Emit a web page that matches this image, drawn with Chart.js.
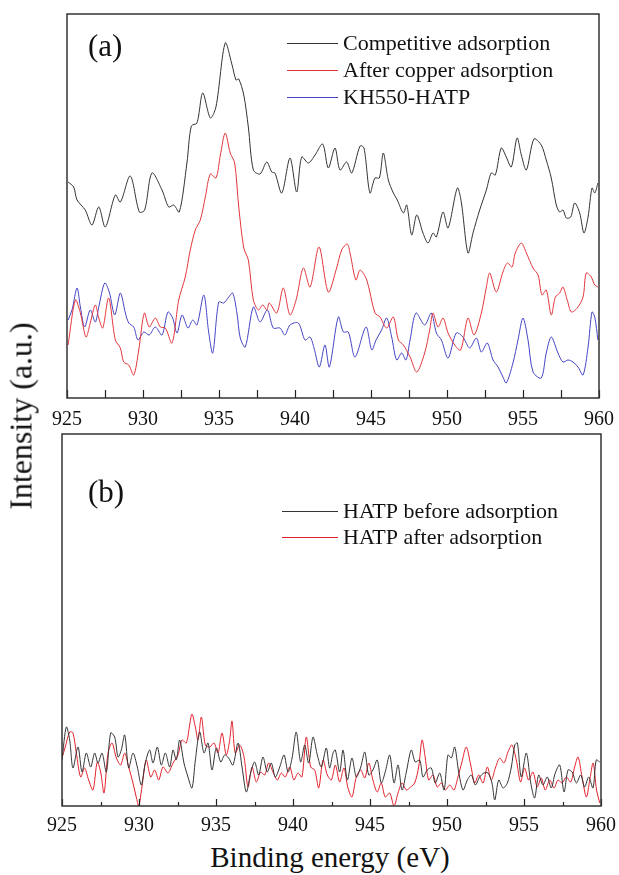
<!DOCTYPE html>
<html><head><meta charset="utf-8">
<script src="https://cdn.jsdelivr.net/npm/chart.js@4.4.0/dist/chart.umd.min.js"></script>
<style>
html,body{margin:0;padding:0;background:#fff;}
body{width:619px;height:875px;position:relative;overflow:hidden;font-family:"Liberation Serif","DejaVu Serif",serif;}
#wa{position:absolute;left:0;top:0;width:619px;height:440px;}
#wb{position:absolute;left:0;top:420px;width:619px;height:420px;}
.ylab{position:absolute;left:21px;top:416px;transform:translate(-50%,-50%) rotate(-90deg);font-size:32px;white-space:nowrap;color:#111;}
.xlab{position:absolute;left:330px;top:857px;transform:translate(-50%,-50%);font-size:29px;white-space:nowrap;color:#111;}
</style></head>
<body>
<div id="wa"><canvas id="ca"></canvas></div>
<div id="wb"><canvas id="cb"></canvas></div>
<div class="ylab">Intensity (a.u.)</div>
<div class="xlab">Binding energy (eV)</div>
<script>
// ---------- DATA ----------
const xTicks = [925, 930, 935, 940, 945, 950, 955, 960];

// Panel (a)
const compLabel = "Competitive adsorption";
const compE = [925.07,925.44,925.66,926.20,926.64,927.09,927.52,928.18,928.51,929.16,
929.76,930.11,930.59,931.25,931.69,932.02,932.39,932.89,933.18,933.55,
933.93,934.43,934.80,935.41,935.86,936.12,936.30,936.63,936.93,937.26,
937.70,938.14,938.47,938.68,939.13,939.67,940.11,940.44,940.88,941.32,
941.82,942.19,942.63,942.96,943.40,943.73,944.28,944.54,944.93,945.26,
945.55,945.81,946.14,946.47,946.73,947.13,947.35,947.68,948.01,948.42,
948.75,949.08,949.30,949.74,950.07,950.68,950.94,951.38,951.71,952.15,
952.59,952.91,953.18,953.57,953.90,954.23,954.61,954.89,955.22,955.72,
956.20,956.53,956.86,957.19,957.41,957.63,957.85,958.14,958.40,958.73,
959.01,959.28,959.54,959.72,959.93];
const compI = [216,211,198,188,173,191,171,203,196,222,
186,188,225,208,191,193,186,235,272,275,
305,280,291,355,333,318,319,303,271,228,
224,236,226,225,205,240,206,241,235,243,
254,230,250,228,236,225,252,250,205,220,
220,245,218,205,198,185,193,163,183,165,
155,165,161,186,170,210,196,145,165,188,
208,225,223,250,241,231,260,243,228,259,
253,238,220,193,186,188,180,181,195,185,
165,181,210,205,215];

const copperLabel = "After copper adsorption";
const copperE = [925.07,925.55,925.88,926.25,926.53,926.86,927.09,927.35,927.74,928.18,
928.51,928.73,929.06,929.39,929.72,930.09,930.41,930.81,931.14,931.47,
931.91,932.35,932.78,933.11,933.44,933.77,934.10,934.43,934.80,935.09,
935.41,935.74,936.03,936.30,936.63,936.93,937.26,937.59,937.88,938.14,
938.31,938.80,939.23,939.67,940.07,940.55,940.99,941.58,942.19,942.74,
943.07,943.44,943.62,944.01,944.28,944.72,945.26,945.59,946.03,946.47,
946.80,947.13,947.57,948.01,948.53,948.86,949.08,949.41,949.74,950.07,
950.51,950.90,951.38,951.78,952.26,952.59,952.81,953.24,953.68,953.97,
954.28,954.49,954.89,955.22,955.66,955.99,956.25,956.53,956.86,957.13,
957.41,957.63,957.91,958.18,958.57,958.95,959.16,959.49,959.72,959.93];
const copperI = [53,98,85,61,75,93,80,70,100,58,
50,36,33,23,48,85,71,80,71,70,
55,98,121,148,168,178,201,224,220,243,
265,245,235,191,150,138,98,88,93,88,
95,85,110,83,98,130,111,151,106,130,
148,154,145,118,128,118,85,81,70,81,
58,53,41,26,45,68,85,71,80,65,
53,48,80,63,85,111,125,106,126,135,
131,145,155,145,130,123,103,108,83,101,
105,111,98,86,90,101,125,121,113,111];

const khLabel = "KH550-HATP";
const khE = [925.07,925.33,925.66,925.88,926.16,926.53,926.86,927.09,927.48,927.78,
928.14,928.51,928.84,929.06,929.39,929.67,930.05,930.41,930.81,931.25,
931.64,931.95,932.24,932.57,932.96,933.27,933.55,934.00,934.32,934.59,
934.98,935.31,935.64,935.90,936.18,936.40,936.73,937.26,937.70,938.18,
938.57,939.01,939.34,939.67,940.22,940.66,940.99,941.25,941.60,941.97,
942.26,942.85,943.18,943.51,943.95,944.67,945.05,945.33,945.70,946.03,
946.36,946.69,947.02,947.30,947.57,947.96,948.53,948.97,949.30,949.63,
950.07,950.61,951.05,951.49,951.93,952.26,952.65,953.03,953.36,953.68,
953.90,954.34,954.67,955.00,955.33,955.66,956.20,956.53,956.86,957.30,
957.63,957.96,958.29,958.62,958.95,959.28,959.54,959.72,959.93];
const khI = [78,88,110,91,71,88,76,91,115,106,
83,105,85,75,71,58,66,63,71,63,
86,80,65,83,70,78,73,103,66,45,
96,95,101,105,85,60,51,91,76,88,
70,70,63,73,75,58,61,50,31,53,
31,81,66,66,41,71,48,58,68,80,
61,38,45,38,58,85,73,85,65,58,
40,65,61,50,60,46,55,38,31,21,
15,35,58,80,58,26,20,45,61,45,
36,38,36,31,23,51,86,81,58];

// Panel (b)
const beforeLabel = "HATP before adsorption";
const beforeE = [925.00,925.28,925.50,925.71,926.04,926.30,926.58,926.86,927.12,927.34,
927.60,927.88,928.16,928.42,928.64,928.85,929.07,929.33,929.61,929.89,
930.15,930.41,930.69,930.91,931.19,931.45,931.71,931.99,932.21,932.42,
932.64,932.92,933.18,933.44,933.66,933.94,934.22,934.48,934.74,935.02,
935.31,935.56,935.82,936.10,936.43,936.69,936.97,937.25,937.51,937.77,
938.05,938.33,938.59,938.85,939.14,939.42,939.68,939.94,940.21,940.50,
940.76,941.02,941.30,941.58,941.84,942.16,942.38,942.60,942.75,943.03,
943.25,943.53,943.83,944.11,944.40,944.66,944.92,945.19,945.47,945.73,
945.99,946.28,946.56,946.82,947.08,947.36,947.68,947.94,948.23,948.44,
948.72,948.98,949.24,949.53,949.81,950.06,950.28,950.50,950.76,951.04,
951.32,951.58,951.84,952.12,952.40,952.66,952.92,953.10,953.36,953.64,
953.92,954.18,954.40,954.57,954.82,955.15,955.44,955.69,955.95,956.23,
956.51,956.77,957.03,957.32,957.60,957.86,958.12,958.40,958.68,958.94,
959.20,959.48,959.69,959.92];
const beforeI = [46,79,66,38,59,34,53,39,53,43,
53,34,73,69,49,56,71,38,53,39,
21,43,56,43,59,41,53,39,56,46,
66,43,29,18,46,74,53,63,36,58,
44,51,48,41,63,39,14,33,44,31,
49,34,43,29,39,51,34,48,74,44,
61,43,69,51,39,58,38,53,56,34,
56,26,48,29,39,54,31,36,46,23,
34,51,23,41,16,34,56,44,46,29,
36,38,23,33,16,51,48,59,34,16,
26,31,21,29,33,33,23,6,26,18,
23,39,61,63,29,53,23,8,31,21,
29,18,33,41,14,36,34,23,31,19,
29,18,46,44];

const afterLabel = "HATP after adsorption";
const afterE = [925.00,925.21,925.50,925.71,925.93,926.21,926.47,926.73,927.01,927.29,
927.51,927.73,927.99,928.25,928.53,928.81,929.07,929.33,929.61,929.82,
929.98,930.19,930.47,930.76,931.02,931.28,931.56,931.88,932.21,932.53,
932.79,933.07,933.29,933.44,933.66,933.83,934.05,934.31,934.59,934.87,
935.13,935.39,935.67,935.89,936.04,936.25,936.54,936.82,937.08,937.34,
937.62,937.90,938.16,938.42,938.70,938.98,939.24,939.50,939.79,940.06,
940.32,940.58,940.86,941.15,941.41,941.67,941.95,942.23,942.49,942.75,
943.03,943.31,943.57,943.83,944.11,944.40,944.66,944.92,945.19,945.47,
945.73,945.99,946.28,946.56,946.82,947.08,947.36,947.64,947.90,948.16,
948.38,948.59,948.81,949.09,949.37,949.63,949.89,950.18,950.45,950.71,
950.97,951.25,951.54,951.80,952.06,952.34,952.62,952.88,953.14,953.42,
953.70,953.96,954.22,954.50,954.78,955.04,955.30,955.58,955.86,956.12,
956.38,956.67,956.95,957.21,957.47,957.75,958.03,958.29,958.51,958.77,
959.05,959.27,959.49,959.71,959.92];
const afterI = [48,59,74,73,53,29,38,26,16,44,
34,13,53,63,48,41,53,39,23,9,
0,19,46,29,36,26,39,33,43,51,
66,63,81,92,79,66,89,61,59,63,
53,73,51,66,85,53,61,49,19,39,
24,34,31,43,34,26,33,29,39,26,
33,29,69,39,36,18,46,31,26,41,
24,38,18,9,29,36,28,43,26,14,
23,9,13,0,13,23,16,19,23,39,
66,48,26,31,19,23,16,21,16,29,
44,59,41,23,31,23,39,26,38,48,
43,54,61,46,24,38,26,34,19,28,
16,26,18,26,23,29,24,39,49,29,
9,26,43,16,3];

// ---------- HELPERS ----------
const zip = (xs, ys) => xs.map((x, i) => ({x: x, y: ys[i]}));
const FONT = '"Liberation Serif","Times New Roman",serif';
const TXT = '#111';

const decor = {
  id: 'decor',
  afterDatasetsDraw(chart, args, opts) {
    const ctx = chart.ctx, a = chart.chartArea, xs = chart.scales.x;
    ctx.save();
    // inward tick marks
    ctx.strokeStyle = '#222'; ctx.lineWidth = 1.2;
    for (let v = xTicks[0]; v <= xTicks[xTicks.length - 1] + 0.01; v += 2.5) {
      const px = Math.round(xs.getPixelForValue(v)) + 0.5;
      const major = xTicks.indexOf(v) >= 0;
      const len = major ? opts.majorLen : opts.minorLen;
      ctx.beginPath(); ctx.moveTo(px, a.bottom); ctx.lineTo(px, a.bottom - len); ctx.stroke();
    }
    // frame
    ctx.strokeStyle = '#333'; ctx.lineWidth = 1.5;
    ctx.strokeRect(a.left, a.top, a.right - a.left, a.bottom - a.top);
    // panel label
    ctx.fillStyle = TXT; ctx.textBaseline = 'middle'; ctx.textAlign = 'left';
    ctx.font = '31px ' + FONT;
    ctx.fillText(opts.label, opts.labelX, opts.labelY);
    // legend from datasets
    ctx.font = '22px ' + FONT;
    chart.data.datasets.forEach((ds, i) => {
      const y = opts.legY + i * opts.legStep;
      ctx.strokeStyle = ds.borderColor; ctx.lineWidth = 1.2;
      ctx.beginPath(); ctx.moveTo(opts.legX, y + 0.5); ctx.lineTo(opts.legX + opts.legLen, y + 0.5); ctx.stroke();
      ctx.fillStyle = TXT;
      ctx.fillText(ds.label, opts.legX + opts.legLen + 5, y + 1);
    });
    ctx.restore();
  }
};

function makeChart(id, datasets, yMax, pad, tickGap, deco) {
  return new Chart(document.getElementById(id), {
    type: 'line',
    data: {datasets: datasets},
    options: {
      responsive: true, maintainAspectRatio: false, animation: false,
      layout: {padding: pad},
      elements: {point: {radius: 0}, line: {borderWidth: 1, tension: 0.3}},
      plugins: {legend: {display: false}, tooltip: {enabled: false}, decor: deco},
      scales: {
        x: {
          type: 'linear', min: xTicks[0], max: xTicks[xTicks.length - 1],
          grid: {display: false, drawTicks: true, tickLength: tickGap}, border: {display: false},
          afterBuildTicks: s => { s.ticks = xTicks.map(v => ({value: v})); },
          afterFit: s => { s.height = 30; },
          ticks: {padding: 0, color: TXT, font: {family: FONT, size: 20}, maxRotation: 0, autoSkip: false}
        },
        y: {display: false, min: 0, max: yMax}
      }
    },
    plugins: [decor]
  });
}

makeChart('ca', [
  {label: compLabel, data: zip(compE, compI), borderColor: '#333333'},
  {label: copperLabel, data: zip(copperE, copperI), borderColor: '#e2363c'},
  {label: khLabel, data: zip(khE, khI), borderColor: '#4444c4'}
], 384, {left: 67, right: 20, top: 14, bottom: 12}, 10,
  {label: '(a)', labelX: 88, labelY: 48, legX: 287, legY: 43, legStep: 27, legLen: 51, majorLen: 8, minorLen: 8});

makeChart('cb', [
  {label: beforeLabel, data: zip(beforeE, beforeI), borderColor: '#333333'},
  {label: afterLabel, data: zip(afterE, afterI), borderColor: '#e2202a'}
], 372, {left: 62, right: 18, top: 14, bottom: 4}, 8,
  {label: '(b)', labelX: 88, labelY: 74, legX: 282, legY: 91, legStep: 26, legLen: 56, majorLen: 7, minorLen: 4});
</script>
</body></html>
